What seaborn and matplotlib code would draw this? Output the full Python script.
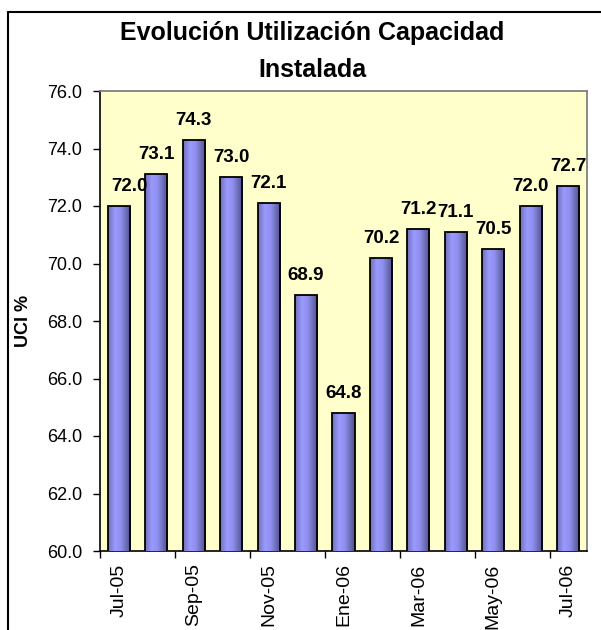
import numpy as np
import pandas as pd
import matplotlib
matplotlib.use('Agg')
import matplotlib.pyplot as plt
from matplotlib.colors import LinearSegmentedColormap
import seaborn as sns

# datos
meses = ['Jul-05', 'Ago-05', 'Sep-05', 'Oct-05', 'Nov-05', 'Dic-05', 'Ene-06',
         'Feb-06', 'Mar-06', 'Abr-06', 'May-06', 'Jun-06', 'Jul-06']
uci = [72.0, 73.1, 74.3, 73.0, 72.1, 68.9, 64.8, 70.2, 71.2, 71.1, 70.5, 72.0, 72.7]

datos = pd.DataFrame({'Mes': meses, 'UCI': uci})

sns.set_style('white')
plt.rcParams['font.family'] = ['Liberation Sans', 'DejaVu Sans']
for k in ['text.color', 'axes.labelcolor', 'xtick.color', 'ytick.color']:
    plt.rcParams[k] = 'black'

fig = plt.figure(figsize=(6.01, 6.3), dpi=100)
ax = fig.add_axes([100 / 601, 1 - 551 / 630, 487 / 601, 460 / 630])

sns.barplot(data=datos, x='Mes', y='UCI', color='#9999FF', width=0.59,
            edgecolor='black', linewidth=1.3, saturation=1, ax=ax, zorder=3)

ymin, ymax = 60, 76

# degradado tipo cilindro en cada barra
cmap = LinearSegmentedColormap.from_list('cil', [(0, '#7070B8'), (0.3, '#9A9AFF'),
                                                  (0.55, '#9090F0'), (1, '#505088')])
grad = np.linspace(0, 1, 64).reshape(1, -1)
for p in ax.patches:
    x0, w, h = p.get_x(), p.get_width(), p.get_height()
    im = ax.imshow(grad, cmap=cmap, aspect='auto',
                   extent=[x0, x0 + w, ymin, h], zorder=3.5)
    im.set_clip_path(p)
    p.set_facecolor('none')
    p.set_zorder(4)

ax.set_ylim(ymin, ymax)
ax.set_xlim(-0.5, len(meses) - 0.5)
ax.set_facecolor('#FFFFCC')

# etiquetas de valores (la primera va un poco corrida a la derecha, como en Excel)
for i, v in enumerate(uci):
    dx = 8 if i == 0 else 0
    ax.annotate(f'{v:.1f}', (i, v), xytext=(dx, 8), textcoords='offset points',
                ha='center', va='bottom', fontsize=13.5, fontweight='bold', zorder=5)

yt = np.arange(ymin, ymax + 0.1, 2)
ax.set_yticks(yt)
ax.set_yticklabels([f'{t:.1f}' for t in yt], fontsize=13)
ax.set_xticks(range(0, len(meses), 2))
ax.set_xticklabels(meses[::2], rotation=90, fontsize=14)
ax.set_xticks(np.arange(-0.5, len(meses), 2), minor=True)
ax.tick_params(axis='x', which='major', length=0, pad=9)
ax.tick_params(axis='x', which='minor', length=5, width=1, direction='out', bottom=True)
ax.tick_params(axis='y', length=5, width=1, direction='out', left=True, pad=8)

for s in ['top', 'right']:
    ax.spines[s].set_color('#808080')
    ax.spines[s].set_linewidth(1.3)
for s in ['left', 'bottom']:
    ax.spines[s].set_color('black')
    ax.spines[s].set_linewidth(1.2)

ax.set_xlabel('')
ax.set_ylabel('UCI %', fontsize=13, fontweight='bold')
ax.yaxis.set_label_coords(-0.14, 0.5)

fig.text(312 / 601, 1 - 33 / 630, 'Evolución Utilización Capacidad', ha='center', va='center',
         fontsize=18, fontweight='bold')
fig.text(312 / 601, 1 - 70 / 630, 'Instalada', ha='center', va='center',
         fontsize=18, fontweight='bold')

# marco exterior
fig.add_artist(plt.Line2D([8 / 601, 8 / 601], [0, 1 - 12 / 630], color='black', lw=1.5))
fig.add_artist(plt.Line2D([8 / 601, 1], [1 - 12 / 630, 1 - 12 / 630], color='black', lw=1.5))

plt.savefig('out.png', dpi=100)
